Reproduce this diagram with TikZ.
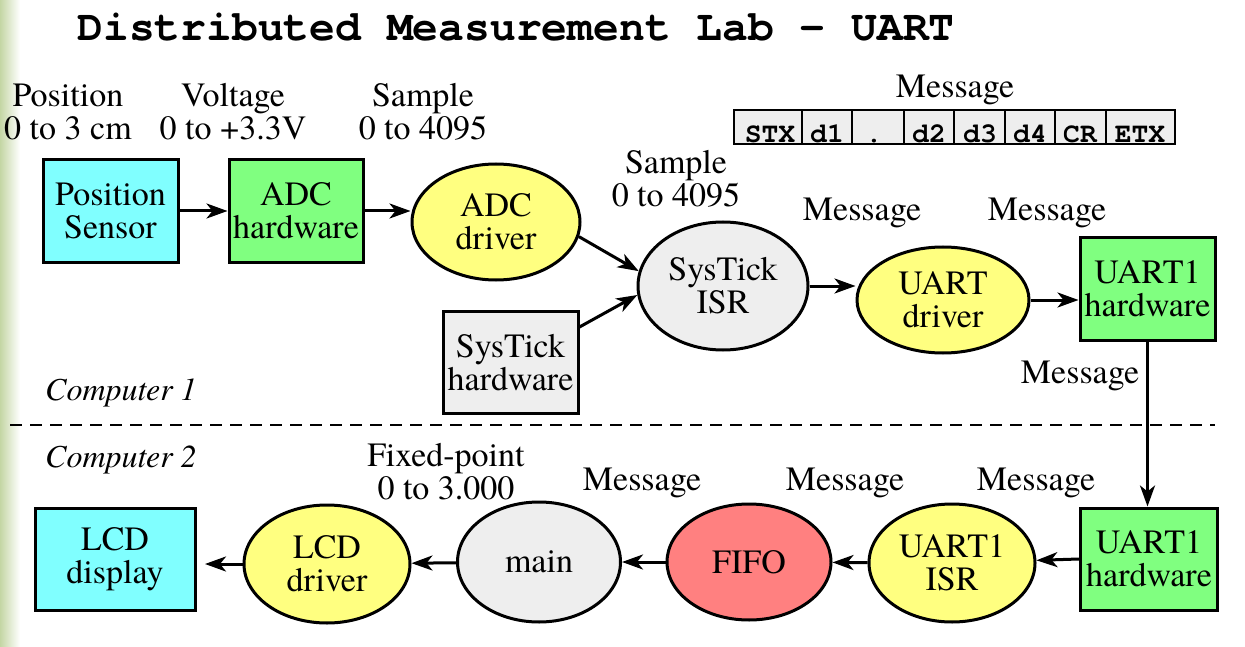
\documentclass[tikz,border=0pt]{standalone}
\usepackage{fontspec}
\setmainfont{texgyretermes}[Extension=.otf, UprightFont=*-regular, ItalicFont=*-italic, BoldFont=*-bold, BoldItalicFont=*-bolditalic]
\newfontfamily\tms{texgyretermes}[Extension=.otf, UprightFont=*-regular, ItalicFont=*-italic, BoldFont=*-bold, BoldItalicFont=*-bolditalic]
\newfontfamily\monob{texgyrecursor}[Extension=.otf, UprightFont=*-bold, BoldFont=*-bold]
\usetikzlibrary{shapes.geometric,arrows.meta}
\definecolor{cyanfill}{HTML}{80FFFF}
\definecolor{greenfill}{HTML}{80FF80}
\definecolor{yellowfill}{HTML}{FFFF80}
\definecolor{grayfill}{HTML}{EEEEEE}
\definecolor{redfill}{HTML}{FF8080}
\definecolor{stripgreen}{RGB}{196,214,164}
\tikzset{
  every node/.style={font=\tms\fontsize{34}{33}\selectfont, align=center, inner sep=0pt},
  boxnode/.style={draw, line width=3pt, rectangle, minimum width=#1, minimum height=102},
  ellnode/.style={draw, line width=3pt, ellipse},
  lbl/.style={font=\tms\fontsize{34}{33}\selectfont},
  complbl/.style={font=\tms\fontsize{32}{32}\selectfont\itshape},
  cell/.style={draw, line width=2.2pt, fill=grayfill, rectangle, minimum height=34},
  celltxt/.style={font=\monob\fontsize{28}{28}\selectfont\bfseries, anchor=base},
  conn/.style={line width=3pt, -{Stealth[length=21pt,width=15pt,inset=6pt]}},
}
\begin{document}
\begin{tikzpicture}[x=1pt,y=-1pt]
\useasboundingbox (0,0) rectangle (1245,647);
\fill[white] (0,0) rectangle (1245,647);
\shade[left color=stripgreen, right color=white] (0,0) rectangle (20,647);

% title
\node (title) at (516,27) {\monob\fontsize{43}{43}\selectfont\bfseries Distributed Measurement Lab - UART};

% top row
\node[boxnode=135, fill=cyanfill] (ps) at (110.5,211) {Position\\Sensor};
\node[boxnode=134, fill=greenfill] (adchw) at (296,211) {ADC\\hardware};
\node[ellnode, fill=yellowfill, minimum width=168, minimum height=116] (adcdrv) at (496,222) {ADC\\driver};
\node[ellnode, fill=grayfill, minimum width=170, minimum height=128] (isr) at (723,286) {SysTick\\ISR};
\node[boxnode=135, fill=grayfill] (sthw) at (510.5,362.5) {SysTick\\hardware};
\node[ellnode, fill=yellowfill, minimum width=172, minimum height=106] (uartdrv) at (943,300) {UART\\driver};
\node[boxnode=135, fill=greenfill] (u1hwa) at (1147.5,289) {UART1\\hardware};

% bottom row
\node[boxnode=137, fill=greenfill] (u1hwb) at (1149,559) {UART1\\hardware};
\node[ellnode, fill=yellowfill, minimum width=166, minimum height=118] (u1isr) at (952,563) {UART1\\ISR};
\node[ellnode, fill=redfill, minimum width=164, minimum height=116] (fifo) at (749,562) {FIFO};
\node[ellnode, fill=grayfill, minimum width=163, minimum height=120] (main) at (539,562) {main};
\node[ellnode, fill=yellowfill, minimum width=166, minimum height=118] (lcddrv) at (327,564) {LCD\\driver};
\node[boxnode=160, fill=cyanfill] (lcd) at (115,559) {LCD\\display};

% labels
\node[lbl] (l1) at (68,112) {Position\\0 to 3 cm};
\node[lbl] (l2) at (233,112) {Voltage\\0 to +3.3V};
\node[lbl] (l3) at (423,112) {Sample\\0 to 4095};
\node[lbl] (l4) at (676,179) {Sample\\0 to 4095};
\node[lbl] (l5) at (862,213) {Message};
\node[lbl] (l6) at (1047,213) {Message};
\node[lbl] (l7) at (1080,376) {Message};
\node[lbl] (l8) at (446,472) {Fixed-point\\0 to 3.000};
\node[lbl] (l9) at (642,483) {Message};
\node[lbl] (l10) at (845,483) {Message};
\node[lbl] (l11) at (1036,483) {Message};
\node[lbl] (l12) at (955,90) {Message};
\node[complbl, anchor=west] (c1) at (45,393) {Computer 1};
\node[complbl, anchor=west] (c2) at (45,460) {Computer 2};

% message frame cells
\node[cell, minimum width=68] (m1) at (768,127) {};
\node[cell, minimum width=50] (m2) at (827,127) {};
\node[cell, minimum width=52] (m3) at (878,127) {};
\node[cell, minimum width=50] (m4) at (929,127) {};
\node[cell, minimum width=51] (m5) at (979.5,127) {};
\node[cell, minimum width=50] (m6) at (1030,127) {};
\node[cell, minimum width=51] (m7) at (1080.5,127) {};
\node[cell, minimum width=69] (m8) at (1140.5,127) {};
\node[celltxt] (t1) at (770,143) {STX};
\node[celltxt] (t2) at (827,143) {d1};
\node[celltxt] (t3) at (874,143) {.};
\node[celltxt] (t4) at (929,143) {d2};
\node[celltxt] (t5) at (980,143) {d3};
\node[celltxt] (t6) at (1030,143) {d4};
\node[celltxt] (t7) at (1080,143) {CR};
\node[celltxt] (t8) at (1140,143) {ETX};

% dashed separator
\coordinate (dl) at (10,425);
\coordinate (dr) at (1215,425);
\draw[line width=2.6pt, dash pattern=on 12pt off 8pt] (dl) -- (dr);

% connectors
\draw[conn] (ps) -- (adchw);
\draw[conn] (adchw.east) -- (adcdrv.west |- adchw.east);
\draw[conn] (adcdrv.-10) -- (isr.170);
\draw[conn] (sthw.north east) ++(0,17) coordinate (sthwout) -- (isr.186);
\draw[conn] (isr.east) -- (uartdrv.west |- isr.east);
\draw[conn] (uartdrv) -- (u1hwa.west |- uartdrv);
\draw[conn] (u1hwa.south) -- (u1hwa.south |- u1hwb.north);
\draw[conn] (u1hwb.west) -- (u1isr);
\draw[conn] (u1isr) -- (fifo);
\draw[conn] (fifo) -- (main);
\draw[conn] (main) -- (lcddrv);
\coordinate (lcdin) at (205,564);
\draw[conn] (lcddrv.west) -- (lcdin);
\end{tikzpicture}
\end{document}
